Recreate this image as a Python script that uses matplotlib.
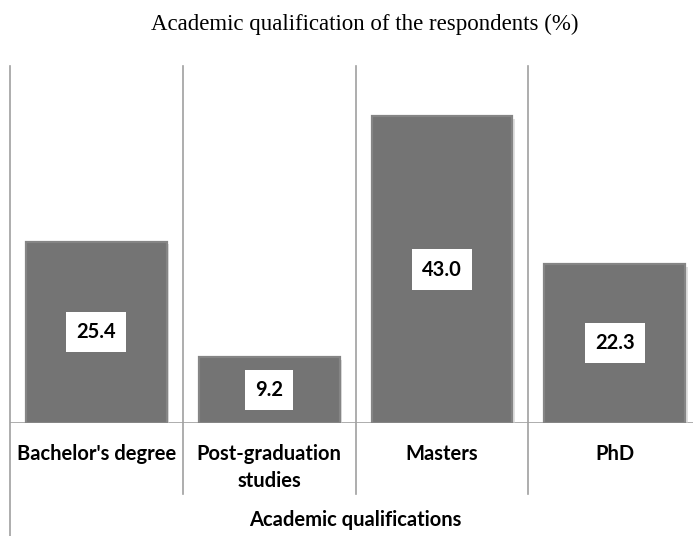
"""
Academic qualification of the respondents - bar chart with values in boxes.
"""

import matplotlib
matplotlib.use("Agg")
from matplotlib import pyplot as plt
from matplotlib import patheffects as pe

# Data
categories = ["Bachelor's degree", "Post-graduation\nstudies", "Masters", "PhD"]
percentages = [25.4, 9.2, 43.0, 22.3]

title = "Academic qualification of the respondents (%)"
x_title = "Academic qualifications"

bar_color = "#747474"
line_color = "#a0a0a0"
label_font = "Lato"

fig = plt.figure(figsize=(6.93, 5.36), dpi=100)
ax = fig.add_axes([0.014, 0.2108, 0.998, 0.666])

x = range(len(categories))
bars = ax.bar(x, percentages, width=0.815, color=bar_color,
              edgecolor="#858585", linewidth=1.6, zorder=3)

# soft shadow like the bevelled Excel bars
for b in bars:
    b.set_path_effects([pe.SimplePatchShadow(offset=(2, -2), shadow_rgbFace="#cccccc", alpha=0.6),
                        pe.Normal()])

# value labels in white boxes, centred on each bar
for b, val in zip(bars, percentages):
    ax.text(b.get_x() + b.get_width() / 2, val / 2, f"{val:.1f}",
            ha="center", va="center", fontsize=14.5, fontweight="bold",
            family=label_font, color="black", zorder=4,
            bbox=dict(boxstyle="square,pad=0.5", facecolor="white", edgecolor="none"))

ax.set_xlim(-0.5, len(categories) - 0.5)
ax.set_ylim(0, 50)

# category separators that run down through the tick label area
for i in range(len(categories)):
    bottom = -0.32 if i == 0 else -0.2
    ax.axvline(i - 0.5, ymin=bottom, ymax=1, color=line_color, linewidth=1.2,
               clip_on=False, zorder=1)
ax.axhline(0, color=line_color, linewidth=1.2, zorder=2)

for spine in ax.spines.values():
    spine.set_visible(False)
ax.set_yticks([])
ax.set_xticks(list(x))
ax.set_xticklabels(categories, fontsize=14.5, fontweight="bold", family=label_font,
                   linespacing=1.45, va="top")
ax.tick_params(axis="x", length=0, pad=15)

ax.set_xlabel(x_title, fontsize=14.5, fontweight="bold", family=label_font, labelpad=14)

fig.text(0.527, 0.955, title, ha="center", va="center", fontsize=16.5,
         family="Liberation Serif")

fig.savefig("out.png", dpi=100)
